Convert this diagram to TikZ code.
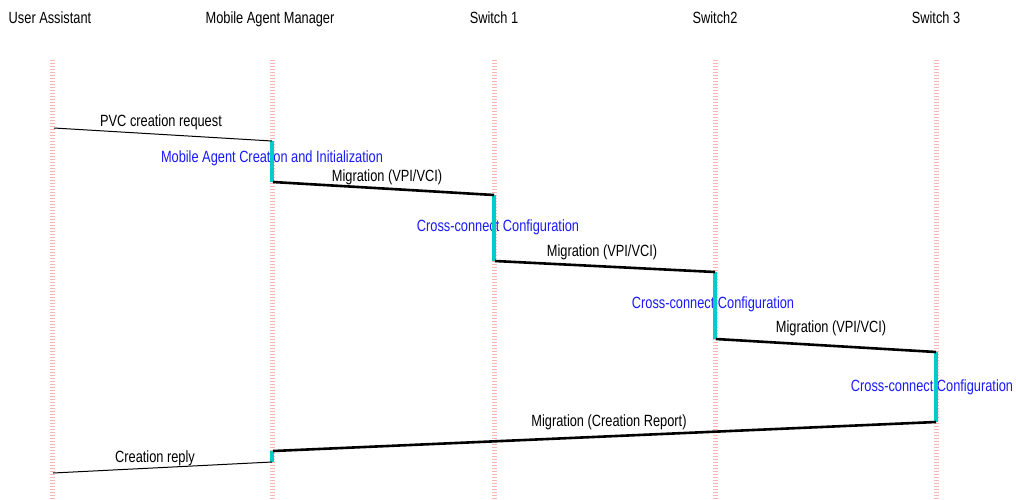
\documentclass[tikz,border=0pt]{standalone}
\usepackage{fontspec}
\setmainfont{Liberation Sans}
\definecolor{barcyan}{RGB}{0,204,204}
\definecolor{lifepink}{RGB}{255,180,180}
\definecolor{actblue}{RGB}{25,25,255}
\newcommand{\tall}[1]{\scalebox{1}[1.27]{#1}}
\begin{document}
\begin{tikzpicture}[x=1pt,y=-1pt,
  head/.style={font=\fontsize{12.8}{14}\selectfont, inner sep=0pt, anchor=base},
  lifeline/.style={draw=lifepink, line width=5pt, dash pattern=on 1pt off 2pt},
  msg/.style={black, line width=1pt},
  mig/.style={black, line width=2.6pt},
  actbar/.style={draw=barcyan, line width=4pt},
  mlabel/.style={font=\fontsize{12.8}{14}\selectfont, inner sep=0pt, anchor=base, text=black},
  alabel/.style={font=\fontsize{12.8}{14}\selectfont, inner sep=0pt, anchor=base, text=actblue},
]
\useasboundingbox (0,0) rectangle (1016,499);
% heads
\node[head] (ua) at (50,23.5) {\tall{User Assistant}};
\node[head] (mam) at (270,23.5) {\tall{Mobile Agent Manager}};
\node[head] (s1) at (494,23.5) {\tall{Switch 1}};
\node[head] (s2) at (715,23.5) {\tall{Switch2}};
\node[head] (s3) at (936,23.5) {\tall{Switch 3}};
% lifelines
\coordinate (uaT) at (52,60); \coordinate (uaB) at (52,499);
\coordinate (mamT) at (272,60); \coordinate (mamB) at (272,499);
\coordinate (s1T) at (494,60); \coordinate (s1B) at (494,499);
\coordinate (s2T) at (715,60); \coordinate (s2B) at (715,499);
\coordinate (s3T) at (936,60); \coordinate (s3B) at (936,499);
\foreach \l in {ua,mam,s1,s2,s3} \draw[lifeline] (\l T) -- (\l B);
% event points
\coordinate (p1) at (54,128);
\coordinate (p2) at (272,141);
\coordinate (p3) at (272,182);
\coordinate (p4) at (494,195);
\coordinate (p5) at (494,261);
\coordinate (p6) at (715,272);
\coordinate (p7) at (715,339);
\coordinate (p8) at (936,352);
\coordinate (p9) at (936,422);
\coordinate (p10) at (272,451);
\coordinate (p11) at (272,462);
\coordinate (p12) at (53,473);
% activation labels
\node[alabel] (a1) at (272,162.5) {\tall{Mobile Agent Creation and Initialization}};
\node[alabel] (a2) at (498,231.5) {\tall{Cross-connect Configuration}};
\node[alabel] (a3) at (713,308.3) {\tall{Cross-connect Configuration}};
\node[alabel] (a4) at (932,391.5) {\tall{Cross-connect Configuration}};
% activation bars
\draw[actbar] (p2) -- (p3);
\draw[actbar] (p4) -- (p5);
\draw[actbar] (p6) -- (p7);
\draw[actbar] (p8) -- (p9);
\draw[actbar] (p10) -- (p11);
% messages
\draw[msg] (p1) -- (p2);
\draw[mig] ([xshift=1pt]p3) -- (p4);
\draw[mig] ([xshift=1pt]p5) -- (p6);
\draw[mig] ([xshift=1pt]p7) -- (p8);
\draw[mig] (p9) -- ([xshift=1pt]p10);
\draw[msg] (p11) -- (p12);
% message labels
\node[mlabel] (m1) at (161,126) {\tall{PVC creation request}};
\node[mlabel] (m2) at (387,181.5) {\tall{Migration (VPI/VCI)}};
\node[mlabel] (m3) at (602,256.5) {\tall{Migration (VPI/VCI)}};
\node[mlabel] (m4) at (831,332.3) {\tall{Migration (VPI/VCI)}};
\node[mlabel] (m5) at (609,426.7) {\tall{Migration (Creation Report)}};
\node[mlabel] (m6) at (155,462.3) {\tall{Creation reply}};
\end{tikzpicture}
\end{document}
